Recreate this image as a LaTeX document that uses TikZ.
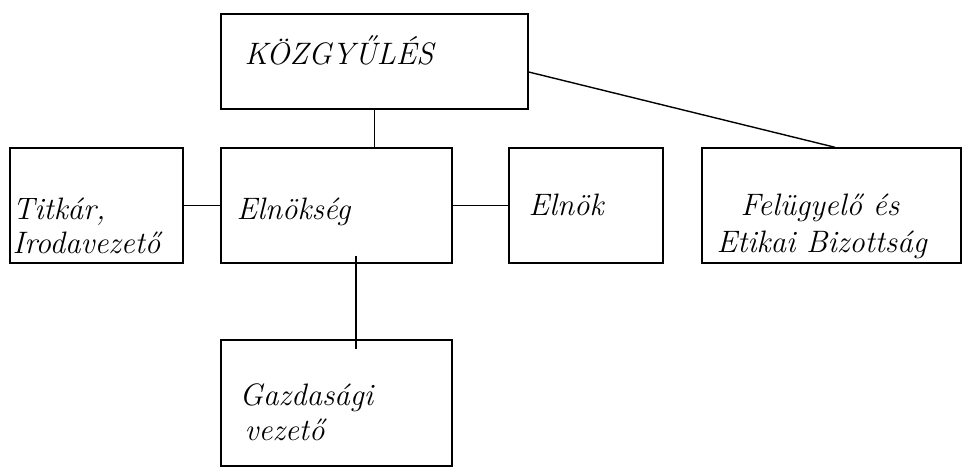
\documentclass[tikz,border=0pt]{standalone}
\usepackage{fontspec}

\begin{document}
\begin{tikzpicture}[x=1pt, y=-1pt, line width=1.4pt]
	\tikzstyle{every node}=[align=left, font=\fontsize{31}{35}\selectfont\itshape]
	\tikzstyle{box}=[draw, rectangle, inner sep=0pt]
	\tikzstyle{txt}=[anchor=base west, inner sep=0pt]
	\useasboundingbox (0,0) rectangle (962,468);
		\node[box, minimum width=307, minimum height=95]  (kozgy)  at (374.5, 61.5) {};
		\node[box, minimum width=173, minimum height=115] (titkar) at (96.5, 205.5) {};
		\node[box, minimum width=231, minimum height=115] (elnsg)  at (336.5, 205.5) {};
		\node[box, minimum width=154, minimum height=115] (elnok)  at (586, 205.5) {};
		\node[box, minimum width=259, minimum height=115] (febiz)  at (831.5, 205.5) {};
		\node[box, minimum width=231, minimum height=126] (gazd)   at (336.5, 403) {};

		\node[txt] (kozgyt)  at (244, 65)  {KÖZGYŰLÉS};
		\node[txt] (titkart) at (12, 253)  {Titkár,\\[-2pt]Irodavezető};
		\node[txt] (elnsgt)  at (236, 220) {Elnökség};
		\node[txt] (elnokt)  at (528, 215) {Elnök};
		\node[txt] (febizt)  at (716, 252) {\hspace*{24pt}Felügyelő és\\[2pt]Etikai Bizottság};
		\node[txt] (gazdt)   at (239, 440) {Gazdasági\\\hspace*{5pt}vezető};

		\draw (kozgy.south) -- (kozgy.south |- elnsg.north);
		\draw ([yshift=-10.5pt]kozgy.east) -- ([xshift=3.5pt]febiz.north);
		\draw (titkar.east) -- (elnsg.west);
		\draw (elnsg.east) -- (elnok.west);
		\draw ([xshift=19.5pt, yshift=8pt]elnsg.south) -- ([xshift=19.5pt, yshift=-10pt]gazd.north);
\end{tikzpicture}
\end{document}
